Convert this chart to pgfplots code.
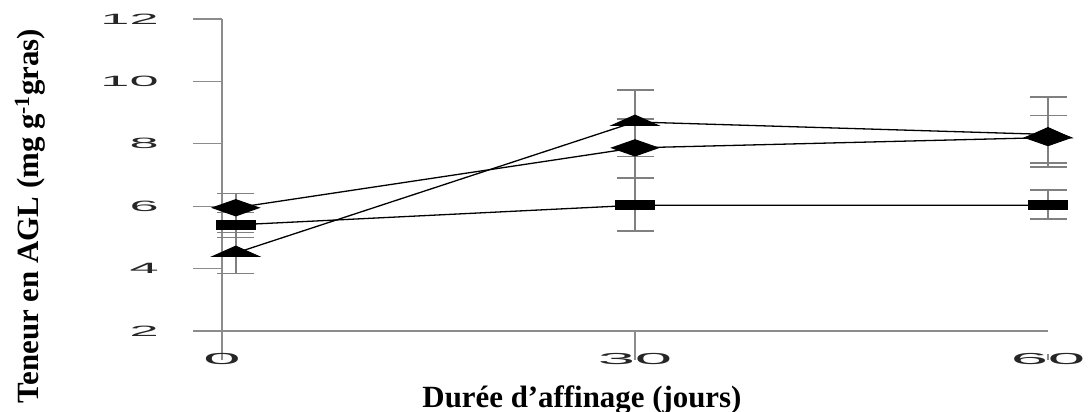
\documentclass[border=0pt]{standalone}
\usepackage{fontspec}
\setmainfont{Liberation Serif}
\newfontfamily\ticksans{Liberation Sans}
\usepackage{pgfplots}
\pgfplotsset{compat=1.18}
\usepackage{pgfplotstable}

\pgfplotstableread{
x y ep em
1 5.95 0.45 0.45
30 7.87 0.93 0.97
60 8.2 0.70 0.82
}\diam
\pgfplotstableread{
x y ep em
1 5.40 0.40 0.40
30 6.03 0.85 0.83
60 6.03 0.49 0.44
}\squ
\pgfplotstableread{
x y ep em
1 4.50 0.65 0.65
30 8.70 1.02 1.10
60 8.30 1.20 1.04
}\tri

\definecolor{axgray}{gray}{0.55}
\definecolor{ebgray}{gray}{0.5}

\begin{document}
\begin{tikzpicture}
\path[use as bounding box] (-222bp,-81bp) rectangle (868bp,331bp);
\begin{axis}[
  scale only axis, width=826bp, height=312bp,
  xmin=0, xmax=60, ymin=2, ymax=12,
  axis x line*=bottom, axis y line*=left,
  x axis line style={-, draw=axgray, line width=1.6bp},
  y axis line style={-, draw=axgray, line width=2.6bp},
  xtick={0,30,60}, ytick={2,4,...,12},
  tick align=outside,
  major tick length=29bp,
  xtick style={shorten >=23bp, draw=axgray, line width=1.4bp},
  ytick style={draw=axgray, line width=1.2bp},
  /pgf/number format/assume math mode=true,
  yticklabel style={xshift=-22bp, font=\ticksans\fontsize{15}{15}\selectfont, xscale=3.5, text=black!85},
  xticklabel style={yshift=10bp, font=\ticksans\fontsize{16}{16}\selectfont, xscale=4.2, text=black!85},
  clip=false,
  error bars/error bar style={draw=ebgray, line width=2.4bp},
  error bars/error mark options={rotate=90, draw=ebgray, mark size=18.5bp, line width=1.4bp},
]
\addplot[draw=none, mark=none, error bars/.cd, y dir=both, y explicit]
  table[x=x, y=y, y error plus=ep, y error minus=em]{\diam};
\addplot[draw=none, mark=none, error bars/.cd, y dir=both, y explicit]
  table[x=x, y=y, y error plus=ep, y error minus=em]{\squ};
\addplot[draw=none, mark=none, error bars/.cd, y dir=both, y explicit]
  table[x=x, y=y, y error plus=ep, y error minus=em]{\tri};

\addplot[black, line width=1.3bp, mark=square*, mark size=4.5bp, mark options={xscale=4.3, fill=black}]
  table[x=x, y=y]{\squ};
\addplot[black, line width=1.3bp, mark=triangle*, mark size=6.7bp, mark options={xscale=3.9, fill=black}]
  table[x=x, y=y]{\tri};
\addplot[black, line width=1.3bp, mark=diamond*, mark size=8bp, mark options={xscale=3.8, fill=black}]
  table[x=x, y=y]{\diam};
\end{axis}
\node[anchor=base, font=\bfseries\fontsize{31}{36}\selectfont] at (360bp,-76bp) {Durée d’affinage (jours)};
\node[rotate=90, anchor=center, font=\bfseries\fontsize{31}{36}\selectfont] at (-192bp,115bp) {Teneur en AGL (mg g\textsuperscript{-1}gras)};
\end{tikzpicture}
\end{document}
